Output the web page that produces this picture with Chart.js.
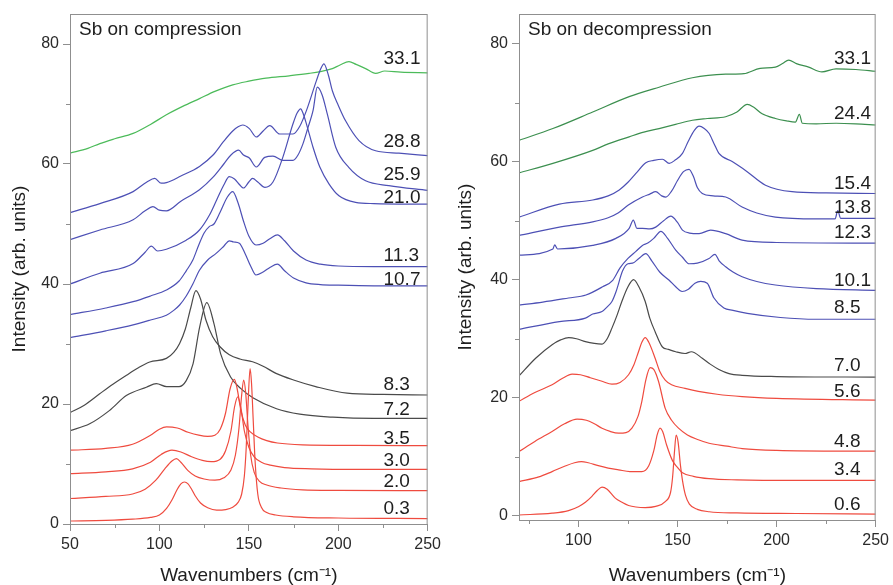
<!DOCTYPE html>
<html><head><meta charset="utf-8">
<script src="https://cdn.jsdelivr.net/npm/chart.js@4.4.1/dist/chart.umd.min.js"></script>
<style>
html,body{margin:0;padding:0;background:#fff;overflow:hidden;width:893px;height:585px}
#cl{position:absolute;left:0;top:0}
#cr{position:absolute;left:445px;top:0}
</style>
</head><body>
<canvas id="cl" width="445" height="585"></canvas>
<canvas id="cr" width="448" height="585"></canvas>
<script>
// ---------- LEFT PANEL: Sb on compression ----------
const L03x = [50,70,85,95,100,104,107,110,112,114,116,118,120,123,127,132,137,141,144,146,147.5,148.5,149.5,150.7,151.5,152.5,153.5,155,157,160,165,175,200,250];
const L03y = [0.5,0.6,0.8,1.1,1.5,2.6,4.0,5.8,6.7,7.0,6.7,5.8,4.7,3.5,2.7,2.3,2.4,2.8,3.6,5.0,8.0,12.5,19.5,25.9,23.5,17.0,10.5,5.0,2.8,1.9,1.5,1.2,1.0,0.9];
const L20x = [50,70,85,92,98,103,107,109.5,112,116,120,125,131,136,140,142.5,144.5,146,147.1,148.2,149.5,151,153,156,160,168,180,200,250];
const L20y = [4.25,4.6,5.0,5.8,7.3,9.2,10.5,10.9,10.3,8.9,8.0,7.5,7.3,7.7,9.0,11.5,16,21.5,24.0,22,16.5,11.5,8.6,7.1,6.5,6.0,5.7,5.6,5.55];
const L30x = [50,70,85,95,101,107,112,118,124,129,134,137,140,142,143.8,145.5,147.5,150,153,157,162,170,185,210,250];
const L30y = [8.4,8.7,9.2,10.3,11.6,12.3,12.0,11.2,10.6,10.4,10.8,12.2,15.5,19.5,21.2,19.5,15.5,12.8,11.2,10.3,9.8,9.4,9.2,9.1,9.1];
const L35x = [50,70,85,95,100,104,110,116,122,127,131,134,137,139.5,141.9,143.5,145.5,148,151,155,160,166,180,210,250];
const L35y = [12.3,12.6,13.3,14.8,15.8,16.2,16.0,15.3,14.8,14.6,14.8,15.8,18.5,22.5,24.1,22.5,19.0,16.5,15.3,14.5,13.9,13.5,13.2,13.1,13.05];
const L72x = [50,61,72,81.5,92.7,98.3,104,111,115,118.8,122.5,126.5,130.5,134.2,139.8,145.4,152.5,165.5,178.5,197,220,250];
const L72y = [15.55,16.7,18.9,21.4,22.8,23.4,22.9,22.9,23.9,26.7,32.8,36.9,33.4,28.4,24.5,22.6,21.0,19.2,18.3,17.8,17.6,17.6];
const L83x = [50,58,66.6,74,81.6,88,94.6,103.9,108,111.3,114.5,117.5,120.4,123,126,129.8,134,139.1,145,152.1,158,165.2,175,187.4,205,225,250];
const L83y = [18.55,19.8,21.7,23.3,24.8,26.0,27.0,27.6,28.6,30.1,32.5,36.0,38.9,37.5,34.0,31.2,29.5,28.2,27.5,27.05,26.3,25.1,24.0,22.9,21.8,21.6,21.5];
const L107x = [50,70,85.3,95,103.9,108,111.3,115,118.7,122.4,127,131.7,136,139.1,141.5,144.7,148,151,154,158,162,166,170,175,182,190,200,220,250];
const L107y = [31.05,32.2,33.2,34.0,34.8,35.6,36.5,38.0,40.0,42.3,44.0,45.1,46.3,47.2,47.0,46.8,45.0,43.0,41.5,42.0,42.8,43.3,42.2,41.0,40.2,39.9,39.8,39.7,39.7];
const L113x = [50,70,85.3,95,103.9,111,115,118.7,122,125,128,130.5,134,138,141,144,147,150,154,158,162,166,170,175,182,190,200,220,250];
const L113y = [34.9,36.0,37.05,38.0,39.0,40.5,42.2,44.0,46.5,48.5,49.6,50.0,52.0,54.5,55.4,53.5,50.5,48.0,46.5,46.8,47.6,48.2,47.2,45.5,44.0,43.3,43.0,42.9,42.9];
const L210x = [50,66.7,85.3,92,95.5,99,103.9,115,122.4,128,132,136,139.1,142,145,147,150,152.1,155,159,163.5,169,174.7,177,179,180.5,182.2,185.9,189.7,194.8,200.4,209.7,220,250];
const L210y = [40,41.8,43.4,45.3,46.3,45.5,45.8,47.3,49.0,51.5,54.0,56.5,57.9,57.5,56.5,56.0,57.0,57.6,57.0,56.1,57.0,61.1,66.7,68.5,69.2,68.3,66.7,62.8,59.5,56.7,54.7,53.6,53.4,53.3];
const L259x = [50,66.7,85.3,92,96.4,100,103.9,112,122.4,130,136,140,144.3,147,150.3,154.2,158.9,163.5,169.1,174.7,177.5,180.3,183,185.9,188.3,191,193.9,198.6,206,215.3,228.3,250];
const L259y = [47.4,49.0,50.7,52.2,52.9,52.3,52.2,53.8,55.7,57.8,60.0,61.5,62.3,61.5,61.0,59.5,61.1,61.3,60.6,60.6,61.5,63.4,66.0,68.9,72.8,71.5,68.3,62.8,59.4,57.2,56.4,55.6];
const L288x = [50,66.7,85.3,93,97.4,101,103.9,112,122.4,130,136,141,144,146.6,150.3,154.2,158,161.7,167.3,174.7,178.5,182.2,187.8,190,192,194.5,196.7,200,204.1,211.6,220.9,233.9,250];
const L288y = [51.9,53.4,55.4,57.0,57.6,56.8,56.9,58.0,59.6,61.5,63.8,65.5,66.2,66.5,65.9,64.5,65.5,66.4,65.0,65.0,66.3,68.9,73.9,75.7,76.7,74.8,72.2,69.8,67.2,63.9,62.2,61.8,61.4];
const L331x = [50,60,66.7,75,85.3,95,103.9,113,122.4,131,141,150,159.6,172.6,183.7,190,196.7,201,206,210,215.3,220.9,226,235,250];
const L331y = [61.8,62.6,63.4,64.2,65.1,66.6,68.2,69.6,70.9,72.1,73.2,73.8,74.3,74.7,75.1,75.4,75.9,76.5,77.05,76.6,75.9,75.1,75.5,75.3,75.2];

const leftLabels = ['33.1','28.8','25.9','21.0','11.3','10.7','8.3','7.2','3.5','3.0','2.0','0.3'];
const leftLabelY = [76.7,62.9,57.3,53.55,43.86,39.9,22.37,18.2,13.35,9.72,6.1,1.75];
const leftLabelX = 225.3;
const xTicksL = [50,100,150,200,250];
const xMinorL = [75,125,175,225];
const yTicks = [0,20,40,60,80];
const yMinor = [10,30,50,70];

// ---------- RIGHT PANEL: Sb on decompression ----------
const R06x = [70,86.7,95,100.2,103.5,106.8,109.5,111.9,114.5,118.6,122,125.3,129,133.7,139,143.8,146.5,147.5,148.5,149.3,150.3,151.5,152.5,154,156,160,166,180,210,250];
const R06y = [0.15,0.45,0.9,1.6,2.3,3.3,4.3,4.86,4.5,3.0,2.3,1.76,1.5,1.4,1.6,2.4,4.0,6.5,11,13.7,12.5,8.5,6.0,3.5,2.0,1.1,0.7,0.5,0.4,0.3];
const R34x = [70,80,86.7,93,98,101.5,105,110,115,120.3,126,132,135.5,138,139.8,141.2,142.5,144.5,147.4,150,152.5,158,165.9,180,210,250];
const R34y = [5.8,6.6,7.5,8.4,9.0,9.2,9.0,8.5,8.1,7.8,7.5,7.5,8.5,11,13.8,14.85,14.3,12,9.4,8.2,7.3,6.7,6.3,6.1,6.0,6.0];
const R48x = [70,78,86.7,93,99.3,104,108,111.9,116,120.3,124,127,130,132,134,136.2,138,140.4,143.8,147,150.5,155,160.5,165.9,175,182.6,200,250];
const R48y = [10.9,12.6,14.3,15.6,16.4,16.2,15.6,14.85,14.3,14.0,14.1,14.85,16.8,19.4,23.0,25.1,24.8,22.8,18.2,16.2,14.85,13.7,12.9,12.3,11.8,11.4,11.1,10.95];
const R56x = [70,78,86.7,92,96.8,101,106,111.9,116.9,121,125.3,128,130.3,132,133.7,135.5,138.7,141,143.8,147,153.8,160.5,170,182.6,200,250];
const R56y = [19.4,20.9,22.2,23.3,24.0,23.9,23.4,22.8,22.3,22.6,23.9,25.6,27.8,29.4,30.2,29.4,26.7,24.5,23.0,22.2,21.6,21.1,20.6,20.2,19.9,19.6];
const R70x = [70,78.4,86.7,91,95.1,99,103.5,108,111.9,114.5,116.9,119.5,121.9,125,127.8,130.5,133.7,136,138.7,142.4,145.4,149.1,153.8,157,162.5,166.5,170.9,176,182.6,200,250];
const R70y = [23.7,26.7,29.0,29.8,30.2,30.0,29.5,29.2,29.1,30.0,31.8,34.0,36.3,38.8,40.0,38.8,36.3,33.5,31.2,28.6,28.2,27.8,27.5,27.8,26.7,25.7,24.8,24.1,23.8,23.6,23.5];
const R85x = [70,90.4,103.5,107.2,111.9,114.5,116.9,119,122.3,125,127.3,130.5,134,137,141,145.8,149.1,152.3,155.5,158.8,161.7,165,168.4,173.4,178,185.2,201.9,220,250];
const R85y = [31.6,32.9,33.5,34.2,34.6,35.4,36.3,38.0,41.5,42.7,42.8,43.6,44.4,43.2,41.3,39.9,38.8,38.0,38.4,39.4,39.7,39.4,36.9,35.2,34.8,34.3,33.6,33.3,33.3];
const R101x = [70,82,95,103.8,112.2,117.3,121,125,129,132.3,135,138,141.6,145,149.1,152.5,155.8,160,165.9,168.9,171,174.3,178,182.6,190,199.4,220,250];
const R101y = [35.7,36.2,36.9,37.4,38.8,39.9,42.0,43.6,44.8,45.8,46.2,47.0,48.2,47.0,45.0,43.8,42.7,42.8,43.6,44.3,43.2,42.2,41.3,40.5,39.7,39.1,38.5,38.2];
const R123x = [70,87.1,88,89.5,107.2,118.9,125.6,127.7,129.5,132.3,136,139,143,146.6,150,152.5,156,160.9,166.7,174.3,182.6,200,250];
const R123y = [44.15,45.2,45.9,45.2,45.8,47.0,48.7,50.1,48.7,48.7,48.6,48.9,50.0,50.75,49.7,48.4,47.9,47.8,48.4,47.8,46.7,46.3,46.2];
const R138x = [70,90.4,107.2,115,120,125,132.3,136,139,142,144.1,147,150,153,155.8,158,160,162.5,168,174.3,182.6,190,199.4,220,229.5,230.9,232.3,250];
const R138y = [47.5,48.9,49.8,50.5,51.3,52.6,54.0,54.5,54.9,54.2,54.0,55.0,56.8,58.3,58.7,57.5,55.6,54.6,54.2,54.0,52.3,51.3,50.6,50.3,50.3,51.7,50.4,50.4];
const R154x = [70,90.4,107.2,115,120.6,125,129,134,138,142.4,145.8,149,152.5,155.5,158.5,160.9,163.5,165.9,168.5,170.9,177.6,184.3,194.4,207.8,225,250];
const R154y = [50.6,52.8,53.5,54.2,55.2,56.5,58.0,59.8,60.2,60.4,59.7,60.3,61.4,63.5,65.3,66.0,65.6,64.8,63.0,61.4,60.0,58.5,56.0,54.9,54.7,54.6];
const R244x = [70,87.1,107.2,115,125.6,133,140.7,149,157.5,165,174.3,180,185.2,188.5,192.7,199.4,205,209.5,211.5,213,220,230,240,250];
const R244y = [58.1,59.7,61.9,63.0,64.2,65.0,65.6,66.3,67.0,67.3,67.6,68.4,69.7,69.2,68.1,67.3,66.9,66.7,68.0,66.5,66.4,66.5,66.4,66.2];
const R331x = [70,87.1,107.2,125.6,140.7,157.5,174.3,183.5,191.7,199.4,203,206.1,210,216.2,222.9,230,240,250];
const R331y = [63.6,65.6,68.4,71.0,72.6,74.2,74.8,74.9,75.8,76.0,76.6,77.2,76.6,76.0,75.2,75.7,75.6,75.3];

const rightLabels = ['33.1','24.4','15.4','13.8','12.3','10.1','8.5','7.0','5.6','4.8','3.4','0.6'];
const rightLabelY = [76.5,67.3,55.4,51.3,47.1,38.9,34.3,24.5,20.05,11.7,6.9,0.97];
const rightLabelX = 229;
const xTicksR = [100,150,200,250];
const xMinorR = [75,125,175,225];

// ---------- styling ----------
const FONT = "'Liberation Sans', Arial, Helvetica, sans-serif";
const RED = '#ef4b3f', BLUE = '#4d50b5', BLACK = '#4a4a4a', GREEN_L = '#4cbb5a', GREEN_R = '#3c8f4f';
const AXIS = '#8f8f8f';

const leftSeries = [
  [L03x,L03y,RED],[L20x,L20y,RED],[L30x,L30y,RED],[L35x,L35y,RED],
  [L72x,L72y,BLACK],[L83x,L83y,BLACK],
  [L107x,L107y,BLUE],[L113x,L113y,BLUE],[L210x,L210y,BLUE],[L259x,L259y,BLUE],[L288x,L288y,BLUE],
  [L331x,L331y,GREEN_L]
];
const rightSeries = [
  [R06x,R06y,RED],[R34x,R34y,RED],[R48x,R48y,RED],[R56x,R56y,RED],
  [R70x,R70y,BLACK],
  [R85x,R85y,BLUE],[R101x,R101y,BLUE],[R123x,R123y,BLUE],[R138x,R138y,BLUE],[R154x,R154y,BLUE],
  [R244x,R244y,GREEN_R],[R331x,R331y,GREEN_R]
];

function datasets(series){
  return series.map(([xs,ys,c]) => ({
    data: xs.map((x,i)=>({x:x,y:ys[i]})),
    borderColor:c, borderWidth:1.2, pointRadius:0, fill:false,
    cubicInterpolationMode:'monotone'
  }));
}

const decor = {
  id:'decor',
  afterDraw(chart, args, o){
    const {ctx, chartArea:a, scales:{x,y}} = chart;
    ctx.save();
    ctx.strokeStyle = AXIS; ctx.lineWidth = 1;
    ctx.strokeRect(a.left+0.5, a.top+0.5, a.right-a.left-1, a.bottom-a.top);
    ctx.beginPath();
    o.xMinor.forEach(v=>{const p=Math.round(x.getPixelForValue(v))+0.5; ctx.moveTo(p,a.bottom); ctx.lineTo(p,a.bottom+4);});
    o.yMinor.forEach(v=>{const p=Math.round(y.getPixelForValue(v))+0.5; ctx.moveTo(a.left,p); ctx.lineTo(a.left-4,p);});
    ctx.stroke();
    ctx.fillStyle = '#1e1e1e';
    ctx.font = '19px ' + FONT;
    ctx.textAlign = 'left'; ctx.textBaseline = 'alphabetic';
    ctx.fillText(o.title, a.left+9, a.top+21);
    o.labels.forEach((t,i)=>{
      ctx.fillText(t, x.getPixelForValue(o.labelX), y.getPixelForValue(o.labelY[i]));
    });
    ctx.restore();
  }
};

function makeChart(id, series, cfg){
  return new Chart(document.getElementById(id), {
    type:'line',
    data:{datasets:datasets(series)},
    plugins:[decor],
    options:{
      responsive:false, animation:false, events:[],
      layout:{padding:{top:14, right:cfg.padRight, left:0, bottom:0}},
      plugins:{legend:{display:false}, tooltip:{enabled:false},
        decor:{xMinor:cfg.xMinor, yMinor:yMinor, title:cfg.title, labels:cfg.labels, labelY:cfg.labelY, labelX:cfg.labelX}},
      scales:{
        x:{type:'linear', min:cfg.xmin, max:250,
          afterBuildTicks:s=>{ s.ticks = cfg.xTicks.map(v=>({value:v})); },
          afterFit:s=>{ s.height = cfg.xh; },
          ticks:{font:{family:FONT,size:16}, color:'#2a2a2a', padding:4, maxRotation:0, autoSkip:false},
          grid:{drawOnChartArea:false, drawTicks:true, tickLength:7, color:AXIS, tickColor:AXIS},
          border:{display:true, color:AXIS, width:1},
          title:{display:true, text:'Wavenumbers (cm\u207B\u00B9)', color:'#1e1e1e', font:{family:FONT,size:19,lineHeight:1}, padding:{top:0,bottom:0}}
        },
        y:{type:'linear', min:cfg.ymin, max:85,
          afterBuildTicks:s=>{ s.ticks = yTicks.map(v=>({value:v})); },
          afterFit:s=>{ s.width = cfg.yw; },
          ticks:{font:{family:FONT,size:16}, color:'#2a2a2a', padding:4, autoSkip:false},
          grid:{drawOnChartArea:false, drawTicks:true, tickLength:7, color:AXIS, tickColor:AXIS},
          border:{display:true, color:AXIS, width:1},
          title:{display:true, text:'Intensity (arb. units)', color:'#1e1e1e', font:{family:FONT,size:19,lineHeight:1}, padding:{top:cfg.ytp,bottom:0}}
        }
      }
    }
  });
}

makeChart('cl', leftSeries, {xmin:50, ymin:0, xTicks:xTicksL, xMinor:xMinorL, padRight:16, xh:61, yw:70, ytp:10.5,
  title:'Sb on compression', labels:leftLabels, labelY:leftLabelY, labelX:leftLabelX});
makeChart('cr', rightSeries, {xmin:70, ymin:-0.7, xTicks:xTicksR, xMinor:xMinorR, padRight:17, xh:65, yw:74, ytp:11,
  title:'Sb on decompression', labels:rightLabels, labelY:rightLabelY, labelX:rightLabelX});
</script>
</body></html>
